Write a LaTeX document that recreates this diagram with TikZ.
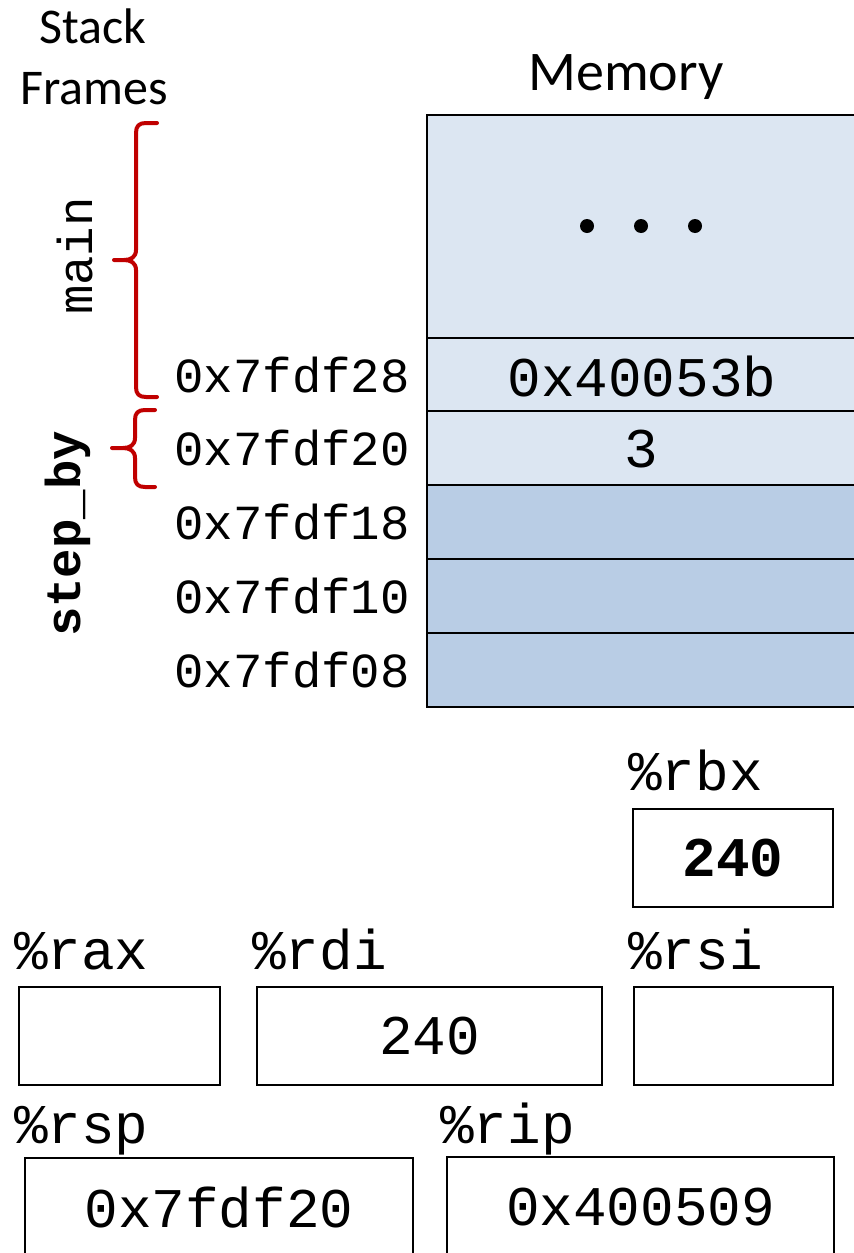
\documentclass[tikz,border=0pt]{standalone}
\usepackage{fontspec}
\setmonofont{Liberation Mono}
\newfontfamily\calib{Carlito}
\definecolor{memlight}{HTML}{DCE6F2}
\definecolor{memdark}{HTML}{B9CDE5}
\definecolor{bracered}{HTML}{C00000}
\newcommand\addrfont{\fontsize{49}{60}\selectfont\ttfamily}
\newcommand\valfont{\fontsize{56}{66}\selectfont\ttfamily}
\newcommand\titlefont{\fontsize{50}{60}\selectfont\calib}
\begin{document}
\begin{tikzpicture}[x=1pt,y=-1pt,
  cellbox/.style={draw=black,line width=2pt,minimum width=440pt,anchor=north west,inner sep=0pt,outer sep=0pt},
  regbox/.style={draw=black,line width=2pt,anchor=north west,inner sep=0pt,outer sep=0pt,font=\valfont},
  addr/.style={anchor=east,inner sep=0pt,font=\addrfont},
  reglabel/.style={anchor=base west,inner sep=0pt,font=\valfont},
  bracestyle/.style={draw=bracered,line width=4pt,line cap=round,line join=round},
  dot/.style={circle,fill=black,inner sep=0pt,minimum size=14pt}]
\useasboundingbox (0,0) rectangle (854,1253);
\clip (0,0) rectangle (854,1253);

% titles
\node[font=\titlefont,inner sep=0pt,anchor=base] (stk) at (93,43) {Stack};
\node[font=\titlefont,inner sep=0pt,anchor=base] (frm) at (94,104) {Frames};
\node[font={\fontsize{56}{66}\selectfont\calib},inner sep=0pt,anchor=base] (memt) at (626,90) {Memory};

% memory cells
\node[cellbox,fill=memlight,minimum height=223pt] (c0) at (427,115) {};
\node[cellbox,fill=memlight,minimum height=73pt] (c1) at (427,338) {};
\node[cellbox,fill=memlight,minimum height=74pt] (c2) at (427,411) {};
\node[cellbox,fill=memdark,minimum height=74pt] (c3) at (427,485) {};
\node[cellbox,fill=memdark,minimum height=74pt] (c4) at (427,559) {};
\node[cellbox,fill=memdark,minimum height=74pt] (c5) at (427,633) {};

\node[dot] (d1) at (587,226) {};
\node[dot] (d2) at (641,226) {};
\node[dot] (d3) at (695,226) {};
\node[font=\valfont,inner sep=0pt] (v1) at (642,376) {0x40053b};
\node[font=\valfont,inner sep=0pt] (v2) at (641,449) {3};

% addresses
\node[addr] (a1) at (410,375) {0x7fdf28};
\node[addr] (a2) at (410,448) {0x7fdf20};
\node[addr] (a3) at (410,522) {0x7fdf18};
\node[addr] (a4) at (410,596) {0x7fdf10};
\node[addr] (a5) at (410,670) {0x7fdf08};

% frames
\node[font=\addrfont,rotate=90,anchor=base,inner sep=0pt] (fmain) at (92,256) {main};
\node[font={\addrfont\bfseries},rotate=90,anchor=base,inner sep=0pt] (fstep) at (80,534) {step\_by};
\draw[bracestyle] (157,123) -- (146,123) .. controls (139,123) and (136,126) .. (136,133)
  -- (136,250) .. controls (136,257) and (131,260) .. (124,260) -- (114,260)
  -- (124,260) .. controls (131,260) and (136,263) .. (136,270)
  -- (136,387) .. controls (136,394) and (139,397) .. (146,397) -- (157,397);
\draw[bracestyle] (155,410) -- (145,410) .. controls (138,410) and (135,413) .. (135,420)
  -- (135,438) .. controls (135,445) and (130,448) .. (123,448) -- (112,448)
  -- (123,448) .. controls (130,448) and (135,451) .. (135,458)
  -- (135,477) .. controls (135,484) and (138,487) .. (145,487) -- (155,487);

% registers
\node[reglabel] (lrbx) at (628,790) {\%rbx};
\node[regbox,minimum width=200pt,minimum height=98pt,font={\valfont\bfseries}] (rbx) at (633,809) {240};
\node[reglabel] (lrax) at (14,969) {\%rax};
\node[regbox,minimum width=201pt,minimum height=98pt] (rax) at (19,987) {};
\node[reglabel] (lrdi) at (252,969) {\%rdi};
\node[regbox,minimum width=345pt,minimum height=98pt] (rdi) at (257,987) {240};
\node[reglabel] (lrsi) at (628,969) {\%rsi};
\node[regbox,minimum width=199pt,minimum height=98pt] (rsi) at (634,987) {};
\node[reglabel] (lrsp) at (14,1143) {\%rsp};
\node[regbox,minimum width=388pt,minimum height=100pt] (rsp) at (25,1158) {0x7fdf20};
\node[reglabel] (lrip) at (440,1143) {\%rip};
\node[regbox,minimum width=387pt,minimum height=100pt] (rip) at (447,1157) {0x400509};
\end{tikzpicture}
\end{document}
